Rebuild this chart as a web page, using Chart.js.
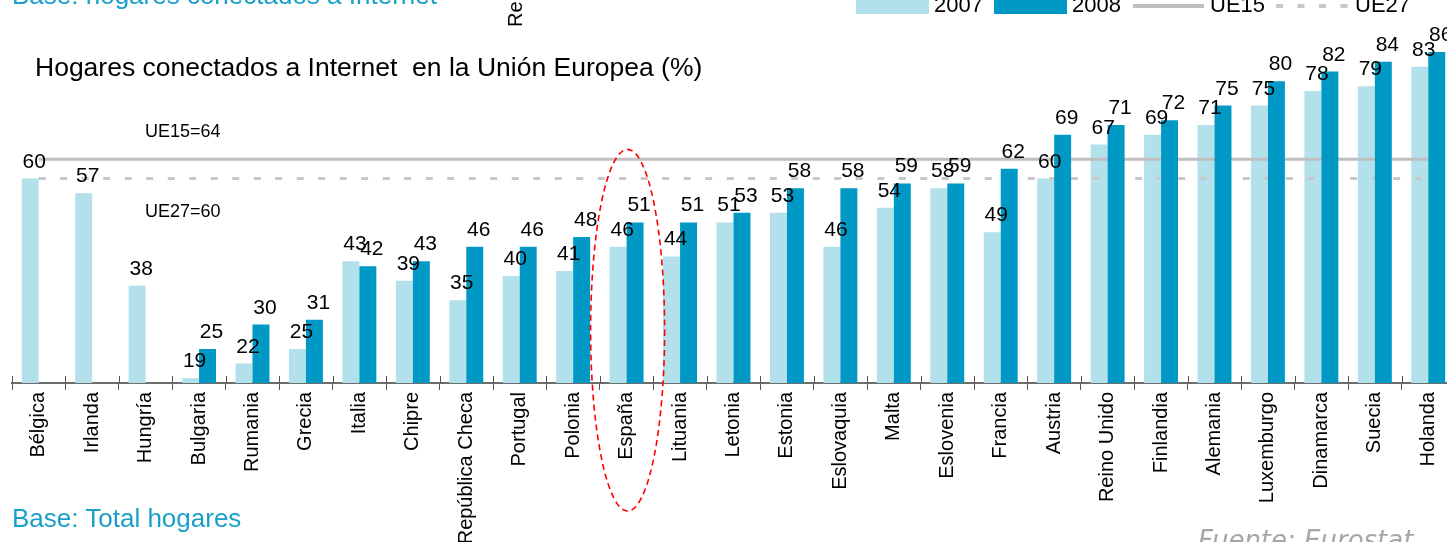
<!DOCTYPE html>
<html>
<head>
<meta charset="utf-8">
<script src="https://cdn.jsdelivr.net/npm/chart.js@4.4.1/dist/chart.umd.min.js"></script>
<style>
  html, body { margin: 0; padding: 0; background: #fff; overflow: hidden; }
  #wrap { position: relative; width: 1447px; height: 542px; overflow: hidden; }
  #c { position: absolute; left: 0; top: 0; }
  #ov { position: absolute; left: 0; top: 0; overflow: visible; }
  text { font-family: "Liberation Sans", Arial, sans-serif; }
</style>
</head>
<body>
<div id="wrap">
  <canvas id="c" width="1460" height="542"></canvas>
  <svg id="ov" width="1447" height="542" xmlns="http://www.w3.org/2000/svg">
    <text x="12" y="4" font-size="26" fill="#1A9FCB">Base: hogares conectados a Internet</text>
    <text transform="translate(522,27) rotate(-90)" font-size="20" fill="#000">Re</text>
    <text x="35" y="76" font-size="26.5" fill="#000" xml:space="preserve">Hogares conectados a Internet  en la Unión Europea (%)</text>
    <rect x="856" y="-10" width="73" height="24" fill="#B2E0EB"/>
    <text x="934" y="12" font-size="22" fill="#000">2007</text>
    <rect x="994" y="-10" width="73" height="24" fill="#0099C5"/>
    <text x="1072" y="12" font-size="22" fill="#000">2008</text>
    <line x1="1133" y1="6" x2="1204" y2="6" stroke="#BFBFBF" stroke-width="4"/>
    <text x="1210" y="12" font-size="22" fill="#000">UE15</text>
    <line x1="1276" y1="6" x2="1348" y2="6" stroke="#C8C8C8" stroke-width="4" stroke-dasharray="7 14.5"/>
    <text x="1355" y="12" font-size="22" fill="#000">UE27</text>
    <text x="145" y="137" font-size="18" fill="#000">UE15=64</text>
    <text x="145" y="217" font-size="18" fill="#000">UE27=60</text>
    <text x="12" y="527" font-size="26" fill="#1A9FCB">Base: Total hogares</text>
    <text x="1198" y="549" font-size="26" fill="#A6A6A6" font-style="italic" style="font-family:'DejaVu Sans',sans-serif">Fuente: Eurostat</text>
  </svg>
</div>
<script>
const categories = ["Bélgica","Irlanda","Hungría","Bulgaria","Rumania","Grecia","Italia","Chipre","República Checa","Portugal","Polonia","España","Lituania","Letonia","Estonia","Eslovaquia","Malta","Eslovenia","Francia","Austria","Reino Unido","Finlandia","Alemania","Luxemburgo","Dinamarca","Suecia","Holanda"];
const values2007 = [60,57,38,19,22,25,43,39,35,40,41,46,44,51,53,46,54,58,49,60,67,69,71,75,78,79,83];
const values2008 = [null,null,null,25,30,31,42,43,46,46,48,51,51,53,58,58,59,59,62,69,71,72,75,80,82,84,86];
const ue15 = 64;
const ue27 = 60;
const highlighted = "España";

const COLOR_2007 = "#B2E0EB";
const COLOR_2008 = "#0099C5";
const FONT = '"Liberation Sans", Arial, sans-serif';

const customDraw = {
  id: 'customDraw',
  beforeDatasetDraw() { return false; },
  afterDatasetsDraw(chart) {
    const ctx = chart.ctx;
    const a = chart.chartArea;
    ctx.save();
    ctx.beginPath();
    ctx.rect(a.left, a.top - 2, a.right - a.left, a.bottom - a.top + 2);
    ctx.clip();
    [0, 2, 3, 1].forEach(i => {
      const m = chart.getDatasetMeta(i);
      if (m && !m.hidden) m.controller.draw();
    });
    ctx.restore();

    // value labels
    ctx.save();
    ctx.font = '21px ' + FONT;
    ctx.fillStyle = '#000';
    ctx.textAlign = 'center';
    ctx.textBaseline = 'alphabetic';
    [0, 1].forEach(di => {
      const meta = chart.getDatasetMeta(di);
      const data = chart.data.datasets[di].data;
      meta.data.forEach((el, i) => {
        if (data[i] === null || data[i] === undefined) return;
        ctx.fillText(String(data[i]), el.x + 4, el.y - 11);
      });
    });
    ctx.restore();
  },
  afterDraw(chart) {
    const ctx = chart.ctx;
    const a = chart.chartArea;
    const xs = chart.scales.x;
    const n = categories.length;
    // tick marks crossing the axis (upper part)
    ctx.save();
    ctx.strokeStyle = '#555';
    ctx.lineWidth = 1;
    for (let i = 0; i <= n; i++) {
      const x = Math.round(a.left + i * (a.right - a.left) / n) + 0.5;
      ctx.beginPath();
      ctx.moveTo(x, a.bottom - 7);
      ctx.lineTo(x, a.bottom);
      ctx.stroke();
    }
    ctx.restore();
    // dashed red ellipse around highlighted country
    const idx = categories.indexOf(highlighted);
    const cx = xs.getPixelForValue(idx) + 1;
    const top = chart.scales.y.getPixelForValue(66);
    const bottom = a.bottom + 128;
    ctx.save();
    ctx.strokeStyle = '#FF0000';
    ctx.lineWidth = 1.6;
    ctx.setLineDash([6, 4]);
    ctx.beginPath();
    ctx.ellipse(cx, (top + bottom) / 2, 37, (bottom - top) / 2, 0, 0, Math.PI * 2);
    ctx.stroke();
    ctx.restore();
  }
};

new Chart(document.getElementById('c'), {
  type: 'bar',
  data: {
    labels: categories,
    datasets: [
      { label: '2007', data: values2007, backgroundColor: COLOR_2007, borderWidth: 0,
        categoryPercentage: 0.635, barPercentage: 1.0 },
      { label: '2008', data: values2008, backgroundColor: COLOR_2008, borderWidth: 0,
        categoryPercentage: 0.635, barPercentage: 1.0 },
      { type: 'line', label: 'UE15', data: categories.map(() => ue15), borderColor: '#BFBFBF',
        borderWidth: 3, pointRadius: 0, fill: false },
      { type: 'line', label: 'UE27', data: categories.map(() => ue27), borderColor: '#C8C8C8',
        borderWidth: 3, borderDash: [7, 14.5], pointRadius: 0, fill: false }
    ]
  },
  options: {
    responsive: false,
    animation: false,
    layout: { padding: { left: 12, right: 5, top: 0, bottom: 0 } },
    plugins: { legend: { display: false }, tooltip: { enabled: false }, title: { display: false } },
    scales: {
      x: {
        offset: true,
        grid: { display: true, drawOnChartArea: false, drawTicks: true, tickLength: 7, color: '#555', lineWidth: 1, offset: true },
        border: { display: true, color: '#6E6E6E', width: 2 },
        ticks: { autoSkip: false, maxRotation: 90, minRotation: 90, padding: 2,
                 color: '#000', font: { family: FONT, size: 20 } },
        afterFit(scale) { scale.height = 159; }
      },
      y: { display: false, min: 18, max: 96.7 }
    }
  },
  plugins: [customDraw]
});
</script>
</body>
</html>
